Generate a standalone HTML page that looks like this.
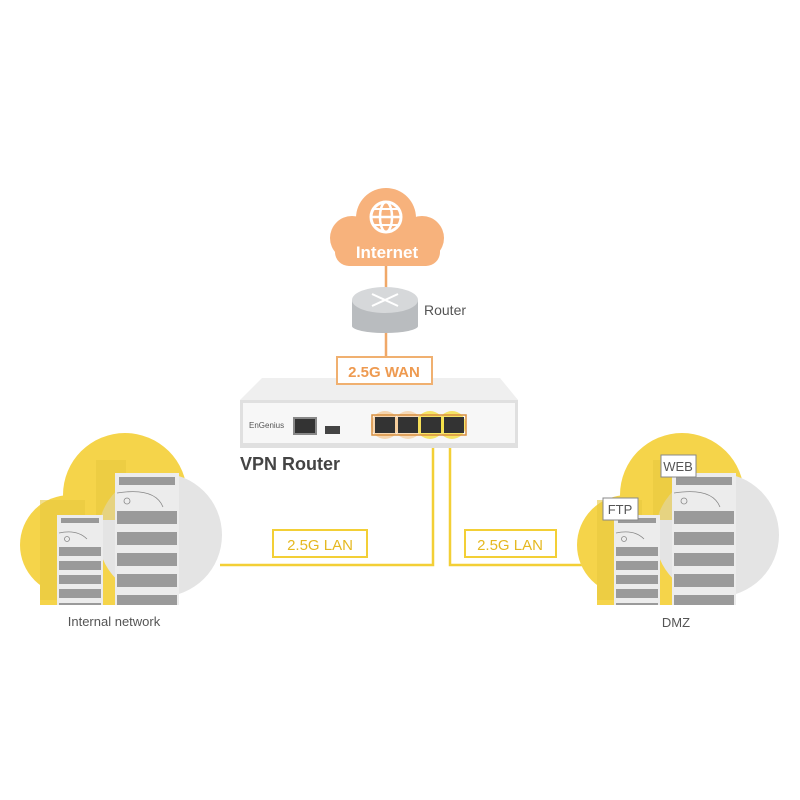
<!DOCTYPE html>
<html><head><meta charset="utf-8"><style>
html,body{margin:0;padding:0;background:#fff;}
svg{display:block;font-family:"Liberation Sans",sans-serif;}
</style></head><body>
<svg width="800" height="800" viewBox="0 0 800 800" xmlns="http://www.w3.org/2000/svg">
<defs>
<clipPath id="cb"><rect x="0" y="0" width="800" height="605"/></clipPath>
<g id="rackS">
  <rect x="0" y="0" width="46" height="95" fill="#ececec"/>
  <rect x="4" y="3" width="38" height="5" fill="#999"/>
  <path d="M2 18 Q20 14 30 24" stroke="#888" fill="none" stroke-width="0.8"/>
  <circle cx="10" cy="24" r="2.5" stroke="#888" fill="none" stroke-width="0.8"/>
  <g fill="#9a9a9a">
   <rect x="2" y="32" width="42" height="9"/><rect x="2" y="46" width="42" height="9"/>
   <rect x="2" y="60" width="42" height="9"/><rect x="2" y="74" width="42" height="9"/><rect x="2" y="88" width="42" height="9"/>
  </g>
</g>
<g id="rackL">
  <rect x="0" y="0" width="64" height="135" fill="#ececec"/>
  <rect x="4" y="4" width="56" height="8" fill="#999"/>
  <path d="M2 20 Q40 14 48 34" stroke="#888" fill="none" stroke-width="0.8"/>
  <circle cx="12" cy="28" r="3" stroke="#888" fill="none" stroke-width="0.8"/>
  <g fill="#9a9a9a">
   <rect x="2" y="38" width="60" height="13"/><rect x="2" y="59" width="60" height="13"/>
   <rect x="2" y="80" width="60" height="13"/><rect x="2" y="101" width="60" height="13"/><rect x="2" y="122" width="60" height="13"/>
  </g>
</g>
<g id="cloud">
 <g clip-path="url(#cb)">
  <circle cx="125" cy="495" r="62" fill="#f5d44a"/>
  <circle cx="70" cy="545" r="50" fill="#f5d44a"/>
  <rect x="40" y="540" width="130" height="70" fill="#f5d44a"/>
  <circle cx="160" cy="535" r="62" fill="#e4e4e4"/>
  <rect x="40" y="500" width="45" height="100" fill="#e8c840" opacity="0.6"/>
  <rect x="96" y="460" width="30" height="60" fill="#e8c840" opacity="0.6"/>
  <use href="#rackS" x="57" y="515"/>
  <use href="#rackL" x="115" y="473"/>
 </g>
</g>
</defs>

<!-- lines -->
<line x1="386" y1="262" x2="386" y2="420" stroke="#f0a868" stroke-width="2.5"/>
<polyline points="433,425 433,565 220,565" fill="none" stroke="#f3cf36" stroke-width="2.5"/>
<polyline points="450,425 450,565 582,565" fill="none" stroke="#f3cf36" stroke-width="2.5"/>

<!-- Internet cloud -->
<g fill="#f7b27c">
 <circle cx="386" cy="218" r="30"/>
 <circle cx="352" cy="238" r="22"/>
 <circle cx="422" cy="238" r="22"/>
 <rect x="335" y="236" width="105" height="30" rx="14"/>
</g>
<circle cx="386" cy="217" r="15" fill="none" stroke="#fff" stroke-width="3"/>
<ellipse cx="386" cy="217" rx="6" ry="15" fill="none" stroke="#fff" stroke-width="2.5"/>
<line x1="371" y1="217" x2="401" y2="217" stroke="#fff" stroke-width="2.5"/>
<line x1="374" y1="209" x2="398" y2="209" stroke="#fff" stroke-width="2"/>
<line x1="374" y1="225" x2="398" y2="225" stroke="#fff" stroke-width="2"/>
<text x="387" y="258" font-size="17" font-weight="bold" fill="#fff" text-anchor="middle">Internet</text>

<!-- Router -->
<rect x="352" y="300" width="66" height="26" fill="#b9bcbf"/>
<ellipse cx="385" cy="326" rx="33" ry="7" fill="#b9bcbf"/>
<ellipse cx="385" cy="300" rx="33" ry="13" fill="#d6d8da"/>
<g stroke="#fff" stroke-width="2"><line x1="372" y1="294" x2="398" y2="306"/><line x1="398" y1="294" x2="372" y2="306"/></g>
<text x="424" y="315" font-size="14" fill="#555">Router</text>

<!-- VPN router -->
<polygon points="262,378 500,378 518,400 240,400" fill="#efefef"/>
<rect x="240" y="400" width="278" height="48" fill="#e0e0e0"/>
<rect x="243" y="403" width="272" height="40" fill="#f7f7f7"/>
<rect x="337" y="357" width="95" height="27" fill="#fff" stroke="#f0b070" stroke-width="2"/>
<text x="384" y="377" font-size="15" font-weight="bold" fill="#ee9a50" text-anchor="middle">2.5G WAN</text>
<text x="249" y="428" font-size="8" fill="#555">EnGenius</text>
<rect x="294" y="418" width="22" height="16" fill="#333" stroke="#888" stroke-width="2"/>
<rect x="325" y="426" width="15" height="8" fill="#444"/>
<circle cx="385" cy="425" r="14" fill="#f6c890" opacity="0.7"/>
<circle cx="408" cy="425" r="14" fill="#f6c890" opacity="0.6"/>
<circle cx="430" cy="425" r="14" fill="#f5e040" opacity="0.8"/>
<circle cx="452" cy="425" r="14" fill="#f5e040" opacity="0.8"/>
<rect x="372" y="415" width="94" height="20" fill="none" stroke="#d89040" stroke-width="1.5"/>
<g fill="#333"><rect x="375" y="417" width="20" height="16"/><rect x="398" y="417" width="20" height="16"/><rect x="421" y="417" width="20" height="16"/><rect x="444" y="417" width="20" height="16"/></g>
<text x="240" y="470" font-size="18" font-weight="bold" fill="#444">VPN Router</text>

<!-- LAN boxes -->
<rect x="273" y="530" width="94" height="27" fill="#fff" stroke="#f3cf36" stroke-width="2"/>
<text x="320" y="550" font-size="15" fill="#e5b820" text-anchor="middle">2.5G LAN</text>
<rect x="465" y="530" width="91" height="27" fill="#fff" stroke="#f3cf36" stroke-width="2"/>
<text x="510" y="550" font-size="15" fill="#e5b820" text-anchor="middle">2.5G LAN</text>

<!-- clouds -->
<use href="#cloud" x="0" y="0"/>
<use href="#cloud" x="557" y="0"/>
<text x="114" y="626" font-size="13" fill="#555" text-anchor="middle">Internal network</text>
<text x="676" y="627" font-size="13" fill="#555" text-anchor="middle">DMZ</text>
<rect x="661" y="455" width="35" height="22" fill="#fff" stroke="#888"/>
<text x="678" y="471" font-size="13" fill="#555" text-anchor="middle">WEB</text>
<rect x="603" y="498" width="35" height="22" fill="#fff" stroke="#888"/>
<text x="620" y="514" font-size="13" fill="#555" text-anchor="middle">FTP</text>
</svg>
</body></html>
